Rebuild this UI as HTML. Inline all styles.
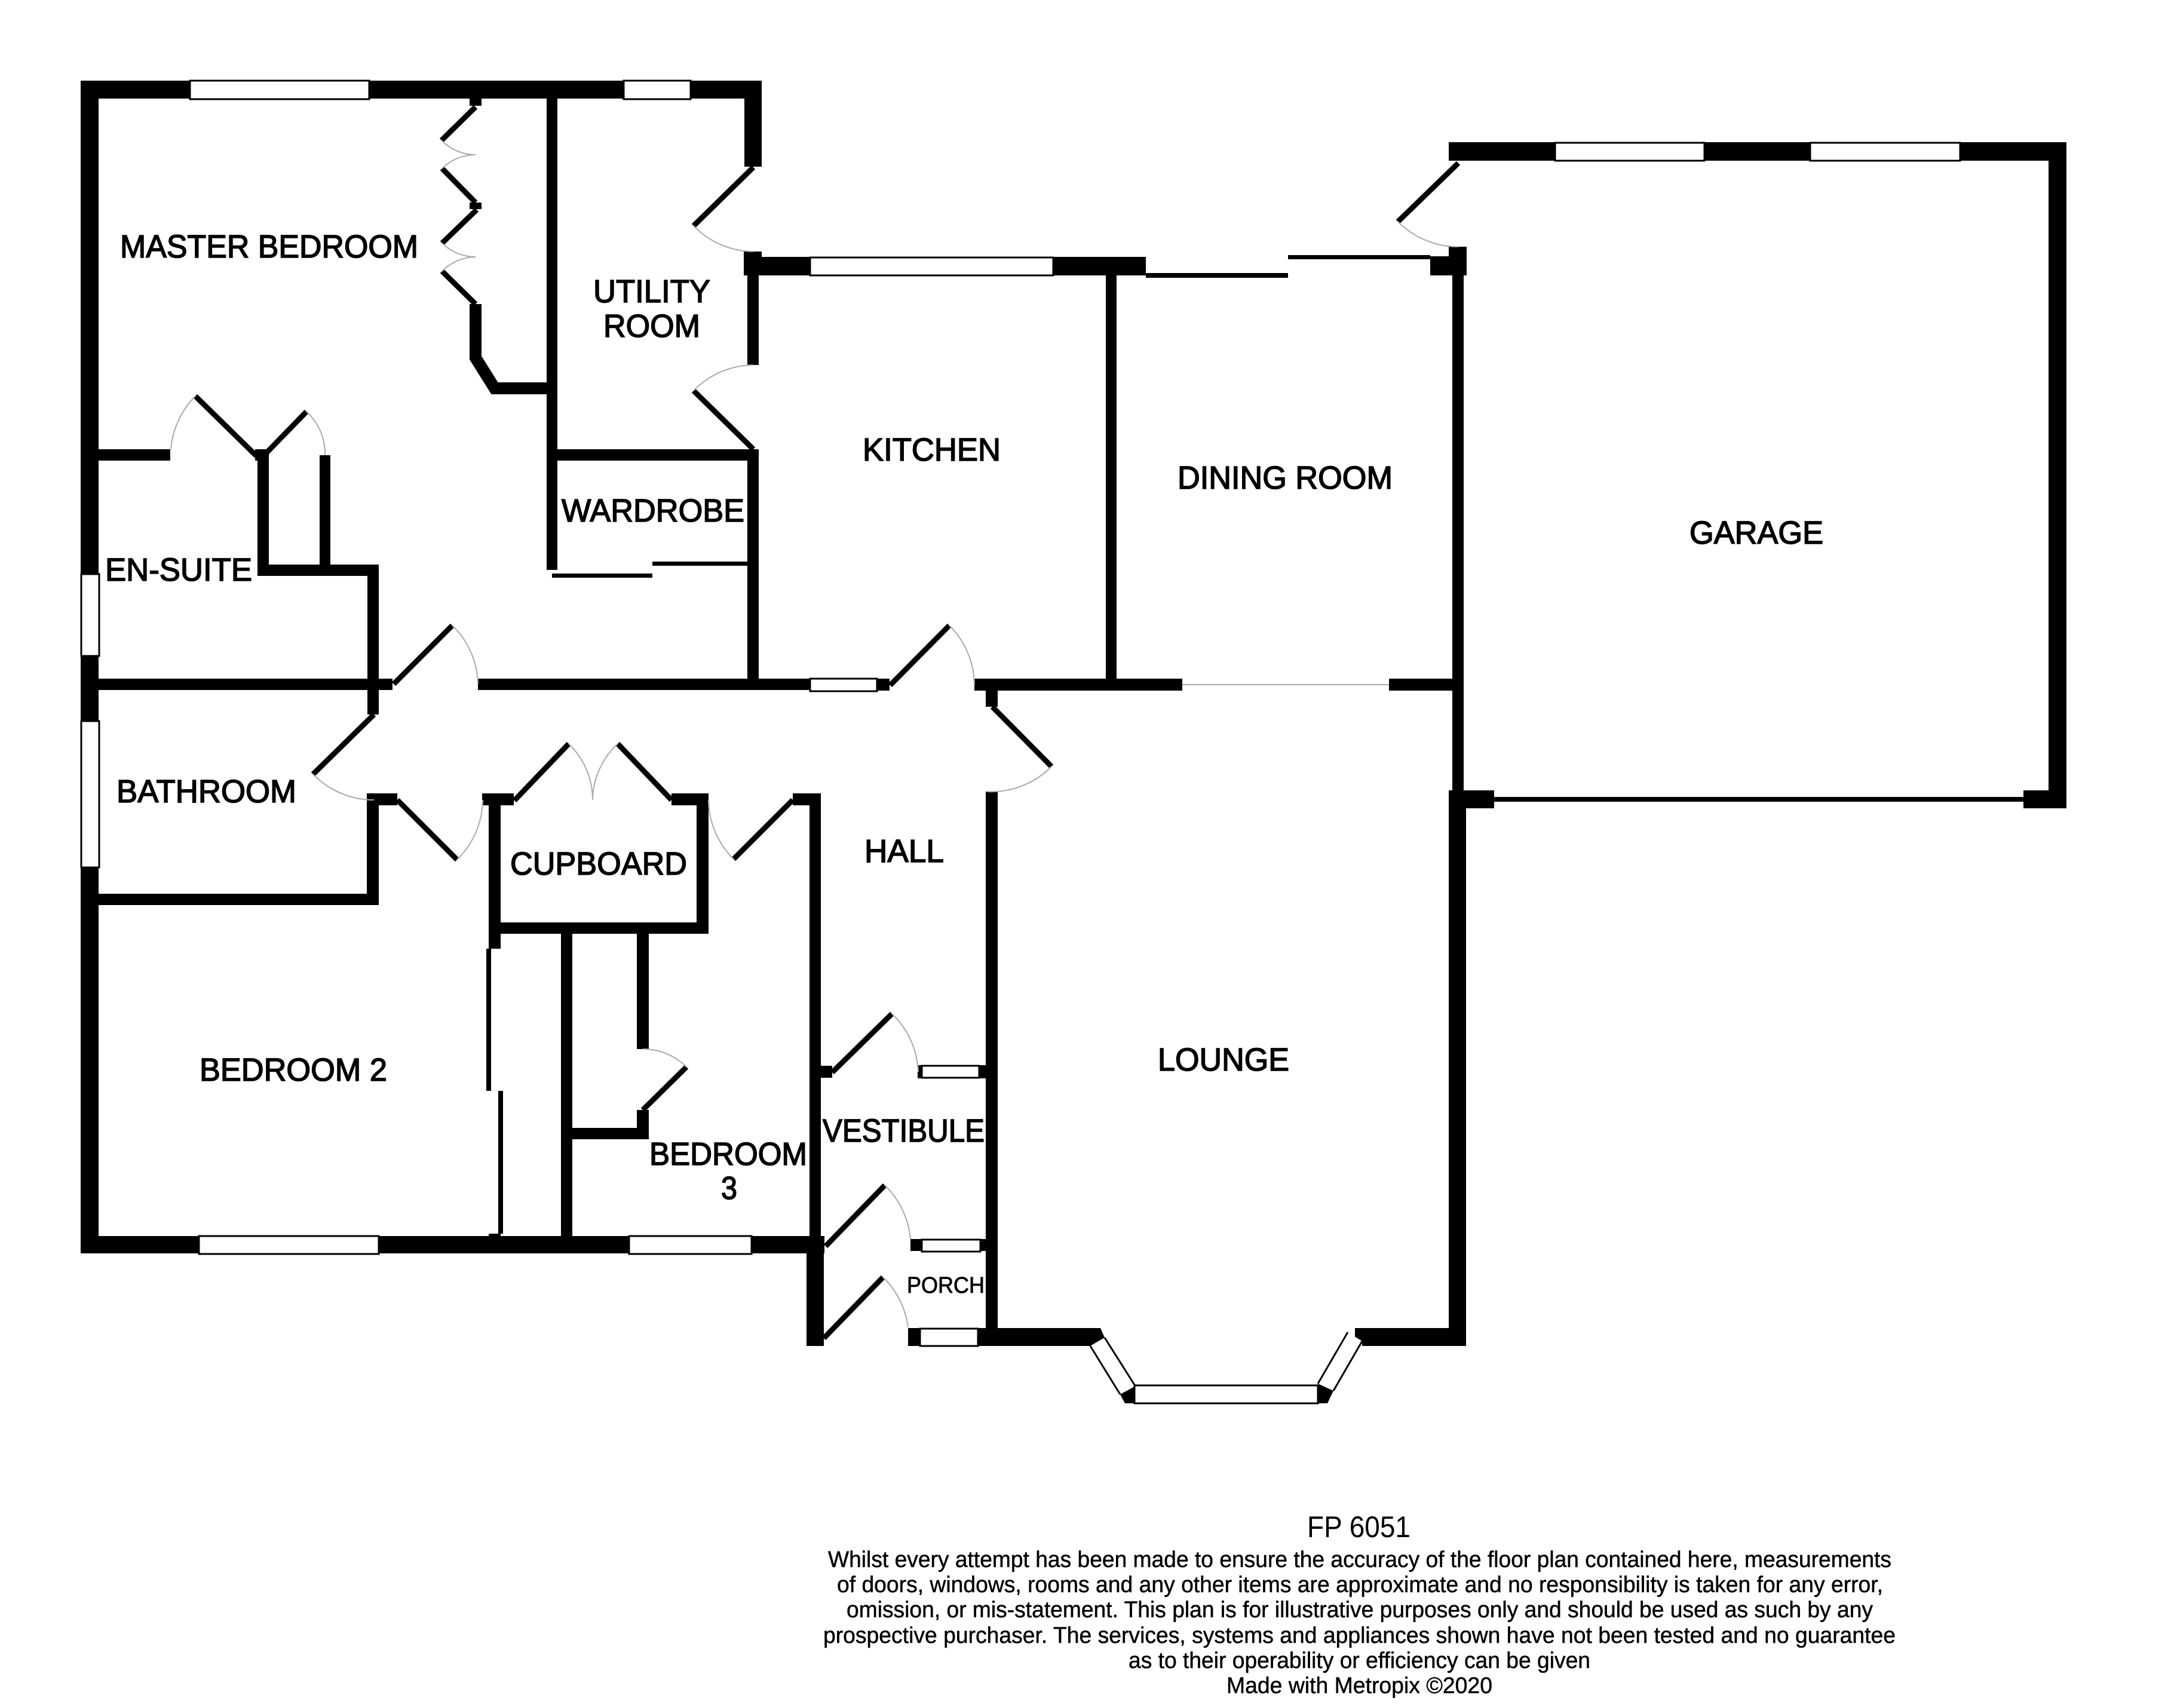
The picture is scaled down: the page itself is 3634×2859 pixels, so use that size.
<!DOCTYPE html>
<html><head><meta charset="utf-8"><style>
html,body{margin:0;padding:0;background:#fff}
svg{display:block}
text{font-family:"Liberation Sans",sans-serif;fill:#000}
.r text{font-size:54px;stroke:#000;stroke-width:1.6}
.f text{font-size:38px;stroke:#000;stroke-width:.5}
.w{fill:#fff;stroke:#000;stroke-width:3}
.l{stroke:#000;stroke-width:9;fill:none}
.a{stroke:#aaa;stroke-width:2;fill:none}
</style></head><body>
<svg xmlns="http://www.w3.org/2000/svg" width="3634" height="2859" viewBox="0 0 3634 2859">
<rect width="3634" height="2859" fill="#fff"/>
<g fill="#000">
<!-- outer main -->
<rect x="135" y="135" width="1140" height="30"/>
<rect x="135" y="135" width="30" height="1963"/>
<rect x="1246" y="135" width="29" height="144"/>
<rect x="135" y="2069" width="1245" height="29"/>
<!-- master internal -->
<rect x="915" y="165" width="18" height="789"/>
<rect x="786" y="165" width="20" height="12"/>
<rect x="786" y="339" width="20" height="11"/>
<rect x="1245" y="421" width="30" height="40"/>
<rect x="1245" y="430" width="673" height="31"/>
<rect x="1251" y="461" width="19" height="150"/>
<rect x="1251" y="752" width="19" height="403"/>
<rect x="915" y="752" width="355" height="19"/>
<rect x="924" y="960" width="168" height="7"/>
<rect x="1092" y="940" width="159" height="7"/>
<!-- en-suite -->
<rect x="165" y="752" width="120" height="19"/>
<rect x="427" y="752" width="23" height="19"/>
<rect x="431" y="752" width="19" height="212"/>
<rect x="535" y="762" width="18" height="190"/>
<rect x="431" y="945" width="202" height="19"/>
<rect x="615" y="945" width="19" height="251"/>
<!-- hall wall -->
<rect x="165" y="1136" width="492" height="19"/>
<rect x="800" y="1136" width="556" height="19"/>
<rect x="1468" y="1136" width="21" height="20"/>
<rect x="1631" y="1136" width="348" height="20"/>
<rect x="2325" y="1136" width="106" height="20"/>
<rect x="1851" y="461" width="18" height="675"/>
<!-- dining -->
<rect x="1918" y="457" width="238" height="8"/>
<rect x="2156" y="427" width="238" height="7"/>
<rect x="2394" y="429" width="61" height="32"/>
<rect x="2425" y="413" width="30" height="48"/>
<rect x="2431" y="461" width="19" height="870"/>
<rect x="1650" y="1156" width="20" height="27"/>
<rect x="1650" y="1325" width="20" height="928"/>
<!-- garage -->
<rect x="2425" y="238" width="1034" height="31"/>
<rect x="3429" y="238" width="30" height="1115"/>
<rect x="2425" y="1323" width="76" height="30"/>
<rect x="3387" y="1323" width="72" height="30"/>
<rect x="2501" y="1334" width="886" height="8"/>
<!-- lounge -->
<rect x="2425" y="1323" width="29" height="930"/>
<polygon points="1637,2223 1842,2223 1849,2239 1825,2253 1637,2253"/>
<polygon points="2268,2223 2454,2223 2454,2253 2280,2253 2280,2245 2268,2238"/>
<polygon points="1875,2334 1899,2321 1899,2349 1883,2349"/>
<polygon points="2206,2316 2232,2328 2222,2349 2206,2349"/>
<!-- bathroom / bed -->
<rect x="614" y="1328" width="51" height="20"/>
<rect x="614" y="1328" width="20" height="187"/>
<rect x="165" y="1496" width="469" height="19"/>
<rect x="807" y="1328" width="53" height="20"/>
<rect x="818" y="1328" width="20" height="260"/>
<rect x="1124" y="1328" width="62" height="20"/>
<rect x="1166" y="1328" width="20" height="235"/>
<rect x="818" y="1544" width="368" height="19"/>
<rect x="1327" y="1328" width="47" height="20"/>
<rect x="1355" y="1328" width="19" height="760"/>
<rect x="814" y="1588" width="8" height="238"/>
<rect x="834" y="1826" width="8" height="239"/>
<rect x="818" y="2065" width="20" height="6"/>
<rect x="939" y="1563" width="19" height="506"/>
<rect x="1066" y="1563" width="20" height="193"/>
<rect x="1066" y="1858" width="20" height="49"/>
<rect x="939" y="1888" width="147" height="19"/>
<!-- vestibule/porch -->
<rect x="1374" y="1784" width="19" height="20"/>
<rect x="1536" y="1783" width="114" height="22"/>
<rect x="1524" y="2074" width="126" height="20"/>
<rect x="1350" y="2069" width="29" height="184"/>
<rect x="1520" y="2223" width="130" height="30"/>
</g>
<!-- wall polyline -->
<polyline points="796,509 796,599 828,650 915,650" fill="none" stroke="#000" stroke-width="20"/>
<!-- windows -->
<rect class="w" x="318" y="135" width="300" height="31"/>
<rect class="w" x="1044" y="135" width="112" height="31"/>
<rect class="w" x="136" y="961" width="30" height="137"/>
<rect class="w" x="136" y="1207" width="30" height="245"/>
<rect class="w" x="333" y="2069" width="301" height="30"/>
<rect class="w" x="1053" y="2069" width="205" height="30"/>
<rect class="w" x="1356" y="1136" width="112" height="21"/>
<rect class="w" x="1356" y="431" width="407" height="30"/>
<rect class="w" x="2603" y="239" width="250" height="30"/>
<rect class="w" x="3030" y="239" width="251" height="30"/>
<rect class="w" x="1543" y="1784" width="96" height="20"/>
<rect class="w" x="1543" y="2075" width="98" height="20"/>
<rect class="w" x="1540" y="2224" width="97" height="29"/>
<rect class="w" x="1899" y="2319" width="307" height="30"/>
<polygon points="1825,2253 1849,2239 1899,2318 1875,2334" fill="#fff"/>
<polygon points="2206,2316 2232,2328 2280,2245 2256,2230" fill="#fff"/>
<g stroke="#000" stroke-width="3" fill="none">
<line x1="1825" y1="2253" x2="1875" y2="2334"/>
<line x1="1849" y1="2239" x2="1899" y2="2318"/>
<line x1="2206" y1="2316" x2="2256" y2="2230"/>
<line x1="2232" y1="2328" x2="2280" y2="2245"/>
</g>
<line x1="1979" y1="1146" x2="2325" y2="1146" stroke="#aaa" stroke-width="2"/>
<!-- door leaves -->
<g class="l">
<line x1="796" y1="179" x2="739" y2="235"/>
<line x1="740" y1="282" x2="796" y2="339"/>
<line x1="798" y1="351" x2="740" y2="407"/>
<line x1="740" y1="454" x2="796" y2="509"/>
<line x1="1261" y1="280" x2="1161" y2="378"/>
<line x1="1161" y1="654" x2="1261" y2="752"/>
<line x1="327" y1="663" x2="429" y2="763"/>
<line x1="447" y1="757" x2="513" y2="689"/>
<line x1="659" y1="1145" x2="757" y2="1047"/>
<line x1="1490" y1="1147" x2="1589" y2="1047"/>
<line x1="1661" y1="1183" x2="1760" y2="1283"/>
<line x1="2441" y1="273" x2="2340" y2="371"/>
<line x1="626" y1="1196" x2="524" y2="1296"/>
<line x1="665" y1="1339" x2="765" y2="1439"/>
<line x1="861" y1="1340" x2="952" y2="1245"/>
<line x1="1124" y1="1339" x2="1034" y2="1245"/>
<line x1="1327" y1="1339" x2="1228" y2="1438"/>
<line x1="1076" y1="1858" x2="1149" y2="1786"/>
<line x1="1393" y1="1795" x2="1493" y2="1697"/>
<line x1="1382" y1="2086" x2="1481" y2="1984"/>
<line x1="1379" y1="2240" x2="1478" y2="2138"/>
</g>
<!-- swing arcs -->
<g class="a">
<path d="M739 235A80 80 0 0 0 796 259"/>
<path d="M740 282A80 80 0 0 1 796 259"/>
<path d="M740 407A80 80 0 0 0 796 430"/>
<path d="M740 454A80 80 0 0 1 796 430"/>
<path d="M1161 378A141 141 0 0 0 1261 421"/>
<path d="M1161 654A141 141 0 0 1 1261 611"/>
<path d="M327 663A143 143 0 0 0 286 752"/>
<path d="M513 689A95 95 0 0 1 544 762"/>
<path d="M757 1047A140 140 0 0 1 800 1145"/>
<path d="M1589 1047A141 141 0 0 1 1631 1146"/>
<path d="M1760 1283A141 141 0 0 1 1652 1325"/>
<path d="M2340 371A141 141 0 0 0 2441 413"/>
<path d="M524 1296A143 143 0 0 0 626 1339"/>
<path d="M765 1439A142 142 0 0 0 808 1339"/>
<path d="M952 1245A131 131 0 0 1 992 1339"/>
<path d="M1034 1245A131 131 0 0 0 992 1339"/>
<path d="M1228 1438A141 141 0 0 1 1186 1339"/>
<path d="M1149 1786A102 102 0 0 0 1076 1756"/>
<path d="M1493 1697A142 142 0 0 1 1537 1794"/>
<path d="M1481 1984A142 142 0 0 1 1524 2074"/>
<path d="M1478 2138A142 142 0 0 1 1520 2222"/>
</g>
<!-- room labels -->
<g class="r">
<text x="201" y="431" textLength="499" lengthAdjust="spacingAndGlyphs">MASTER BEDROOM</text>
<text x="993" y="506" textLength="196" lengthAdjust="spacingAndGlyphs">UTILITY</text>
<text x="1010" y="564" textLength="162" lengthAdjust="spacingAndGlyphs">ROOM</text>
<text x="940" y="873" textLength="306" lengthAdjust="spacingAndGlyphs">WARDROBE</text>
<text x="176" y="972" textLength="246" lengthAdjust="spacingAndGlyphs">EN-SUITE</text>
<text x="1444" y="771" textLength="231" lengthAdjust="spacingAndGlyphs">KITCHEN</text>
<text x="1971" y="818" textLength="360" lengthAdjust="spacingAndGlyphs">DINING ROOM</text>
<text x="2828" y="910" textLength="224" lengthAdjust="spacingAndGlyphs">GARAGE</text>
<text x="195" y="1343" textLength="301" lengthAdjust="spacingAndGlyphs">BATHROOM</text>
<text x="854" y="1464" textLength="296" lengthAdjust="spacingAndGlyphs">CUPBOARD</text>
<text x="1447" y="1443" textLength="133" lengthAdjust="spacingAndGlyphs">HALL</text>
<text x="334" y="1809" textLength="314" lengthAdjust="spacingAndGlyphs">BEDROOM 2</text>
<text x="1087" y="1950" textLength="264" lengthAdjust="spacingAndGlyphs">BEDROOM</text>
<text x="1207" y="2007" textLength="27" lengthAdjust="spacingAndGlyphs">3</text>
<text x="1377" y="1911" textLength="271" lengthAdjust="spacingAndGlyphs">VESTIBULE</text>
<text x="1938" y="1792" textLength="220" lengthAdjust="spacingAndGlyphs">LOUNGE</text>
<text x="1518" y="2164" textLength="130" lengthAdjust="spacingAndGlyphs" style="font-size:38px;stroke-width:.8">PORCH</text>
</g>
<!-- footer -->
<text x="2188" y="2573" textLength="173" lengthAdjust="spacingAndGlyphs" style="font-size:50px">FP 6051</text>
<g class="f">
<text x="1386" y="2623" textLength="1780" lengthAdjust="spacingAndGlyphs">Whilst every attempt has been made to ensure the accuracy of the floor plan contained here, measurements</text>
<text x="1401" y="2665" textLength="1751" lengthAdjust="spacingAndGlyphs">of doors, windows, rooms and any other items are approximate and no responsibility is taken for any error,</text>
<text x="1417" y="2707" textLength="1718" lengthAdjust="spacingAndGlyphs">omission, or mis-statement. This plan is for illustrative purposes only and should be used as such by any</text>
<text x="1378" y="2750" textLength="1795" lengthAdjust="spacingAndGlyphs">prospective purchaser. The services, systems and appliances shown have not been tested and no guarantee</text>
<text x="1889" y="2792" textLength="773" lengthAdjust="spacingAndGlyphs">as to their operability or efficiency can be given</text>
<text x="2053" y="2834" textLength="445" lengthAdjust="spacingAndGlyphs">Made with Metropix ©2020</text>
</g>
</svg>
</body></html>
